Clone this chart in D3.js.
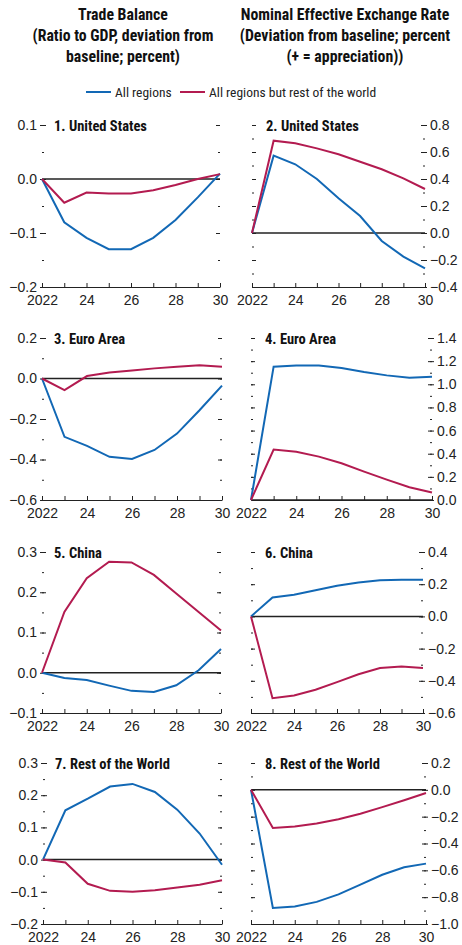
<!DOCTYPE html>
<html>
<head>
  <meta charset="UTF-8">
  <script src="https://d3js.org/d3.v7.min.js"></script>
  <style>
    body { margin: 0; padding: 0; background: #fff; }
    svg { display: block; font-family: "Roboto Condensed", "DejaVu Sans Condensed", sans-serif; }
    .head { font-size: 15.8px; font-weight: bold; fill: #111; }
    .ptitle { font-size: 14.5px; font-weight: bold; fill: #111; }
    .legend text { font-size: 13.5px; fill: #222; }
    .tick text { font-size: 14px; fill: #222; }
    .tick line, .domain { stroke: #222; }
  </style>
</head>
<body>
  <svg id="chart" width="462" height="945"></svg>
  <script>
    // data
    var years = [2022, 2023, 2024, 2025, 2026, 2027, 2028, 2029, 2030];
    var yearLabels = { 2022: "2022", 2024: "24", 2026: "26", 2028: "28", 2030: "30" };
    var seriesNames = ["All regions", "All regions but rest of the world"];
    var leftHeader = ["Trade Balance", "(Ratio to GDP, deviation from", "baseline; percent)"];
    var rightHeader = ["Nominal Effective Exchange Rate", "(Deviation from baseline; percent", "(+ = appreciation))"];

    // trade balance
    var tbUSAll   = [0, -0.080, -0.109, -0.130, -0.130, -0.109, -0.076, -0.034, 0.010];
    var tbUSEx    = [0, -0.044, -0.025, -0.027, -0.027, -0.021, -0.011, 0.000, 0.009];
    var tbEAAll   = [0, -0.288, -0.333, -0.387, -0.397, -0.353, -0.272, -0.157, -0.035];
    var tbEAEx    = [0, -0.057, 0.012, 0.030, 0.040, 0.050, 0.058, 0.065, 0.058];
    var tbCNAll   = [0, -0.013, -0.018, -0.032, -0.045, -0.048, -0.031, 0.006, 0.059];
    var tbCNEx    = [0, 0.151, 0.235, 0.276, 0.274, 0.243, 0.197, 0.151, 0.105];
    var tbRWAll   = [0, 0.153, 0.189, 0.227, 0.235, 0.210, 0.155, 0.081, -0.016];
    var tbRWEx    = [0, -0.009, -0.075, -0.097, -0.100, -0.095, -0.087, -0.078, -0.064];

    // nominal effective exchange rate
    var neerUSAll = [0, 0.573, 0.509, 0.400, 0.257, 0.126, -0.059, -0.175, -0.262];
    var neerUSEx  = [0, 0.684, 0.664, 0.627, 0.583, 0.528, 0.472, 0.405, 0.326];
    var neerEAAll = [0, 1.152, 1.163, 1.163, 1.140, 1.106, 1.077, 1.057, 1.065];
    var neerEAEx  = [0, 0.436, 0.416, 0.375, 0.318, 0.245, 0.176, 0.110, 0.064];
    var neerCNAll = [0, 0.118, 0.135, 0.162, 0.191, 0.211, 0.224, 0.228, 0.228];
    var neerCNEx  = [0, -0.508, -0.491, -0.456, -0.408, -0.359, -0.321, -0.311, -0.321];
    var neerRWAll = [0, -0.881, -0.869, -0.835, -0.779, -0.706, -0.633, -0.577, -0.550];
    var neerRWEx  = [0, -0.285, -0.273, -0.251, -0.219, -0.178, -0.129, -0.078, -0.024];

    // y tick labels per panel
    var ticks1 = [-0.2, -0.1, 0.0, 0.1];
    var ticks2 = [-0.4, -0.2, 0.0, 0.2, 0.4, 0.6, 0.8];
    var ticks3 = [-0.6, -0.4, -0.2, 0.0, 0.2];
    var ticks4 = [0.0, 0.2, 0.4, 0.6, 0.8, 1.0, 1.2, 1.4];
    var ticks5 = [-0.1, 0.0, 0.1, 0.2, 0.3];
    var ticks6 = [-0.6, -0.4, -0.2, 0.0, 0.2, 0.4];
    var ticks7 = [-0.2, -0.1, 0.0, 0.1, 0.2, 0.3];
    var ticks8 = [-1.0, -0.8, -0.6, -0.4, -0.2, 0.0, 0.2];

    var panelTitles = ["1. United States", "2. United States", "3. Euro Area", "4. Euro Area",
      "5. China", "6. China", "7. Rest of the World", "8. Rest of the World"];

    var blue = "#1268b5", red = "#b31b50";

    // layout of the 8 panels
    var panels = [
      { side: "left",  x0: 42,  x1: 220, top: 125, bottom: 287, ticks: ticks1, all: tbUSAll,   ex: tbUSEx },
      { side: "right", x0: 252, x1: 425, top: 125, bottom: 287, ticks: ticks2, all: neerUSAll, ex: neerUSEx },
      { side: "left",  x0: 42,  x1: 222, top: 338, bottom: 500, ticks: ticks3, all: tbEAAll,   ex: tbEAEx },
      { side: "right", x0: 251, x1: 432, top: 338, bottom: 500, ticks: ticks4, all: neerEAAll, ex: neerEAEx },
      { side: "left",  x0: 42,  x1: 221, top: 552, bottom: 713, ticks: ticks5, all: tbCNAll,   ex: tbCNEx },
      { side: "right", x0: 251, x1: 423, top: 552, bottom: 713, ticks: ticks6, all: neerCNAll, ex: neerCNEx },
      { side: "left",  x0: 43,  x1: 222, top: 763, bottom: 924, ticks: ticks7, all: tbRWAll,   ex: tbRWEx },
      { side: "right", x0: 251, x1: 426, top: 763, bottom: 924, ticks: ticks8, all: neerRWAll, ex: neerRWEx }
    ];

    var svg = d3.select("#chart");
    var fmt = function (d) { return d3.format(".1f")(d).replace("-", "\u2212"); };

    // column headers
    function header(lines, cx) {
      svg.append("text").attr("class", "head").attr("text-anchor", "middle")
        .selectAll("tspan").data(lines).enter().append("tspan")
        .attr("x", cx).attr("y", function (d, i) { return 20 + i * 21; })
        .text(function (d) { return d; });
    }
    header(leftHeader, 123);
    header(rightHeader, 345);

    // legend
    var legend = svg.append("g").attr("class", "legend");
    var legX = [86, 180];
    seriesNames.forEach(function (name, i) {
      legend.append("line").attr("x1", legX[i]).attr("x2", legX[i] + 25)
        .attr("y1", 92).attr("y2", 92)
        .attr("stroke", i === 0 ? blue : red).attr("stroke-width", 2);
      legend.append("text").attr("x", legX[i] + 29).attr("y", 97).text(name);
    });

    panels.forEach(function (p, i) {
      var g = svg.append("g");
      var lo = d3.min(p.ticks), hi = d3.max(p.ticks);
      var step = p.ticks[1] - p.ticks[0];
      var minor = d3.range(Math.round((hi - lo) / (step / 2)) + 1).map(function (k) { return lo + k * step / 2; });

      var x = d3.scaleLinear().domain([2022, 2030]).range([p.x0, p.x1]);
      var y = d3.scaleLinear().domain([lo, hi]).range([p.bottom, p.top]);

      var labelled = p.side === "left" ? p.x0 : p.x1;
      var other = p.side === "left" ? p.x1 : p.x0;
      var AxisL = p.side === "left" ? d3.axisLeft : d3.axisRight;
      var AxisO = p.side === "left" ? d3.axisRight : d3.axisLeft;

      // minor ticks on both sides
      g.append("g").attr("transform", "translate(" + labelled + ",0)")
        .call(AxisL(y).tickValues(minor).tickSize(-2).tickFormat(""))
        .call(function (s) { s.select(".domain").remove(); });
      g.append("g").attr("transform", "translate(" + other + ",0)")
        .call(AxisO(y).tickValues(minor).tickSize(-2).tickFormat(""))
        .call(function (s) { s.select(".domain").remove(); });

      // major ticks with labels
      g.append("g").attr("transform", "translate(" + labelled + ",0)")
        .call(AxisL(y).tickValues(p.ticks).tickSize(-4).tickPadding(5).tickFormat(fmt))
        .call(function (s) {
          s.select(".domain").remove();
          s.selectAll(".tick line").attr("x1", p.side === "left" ? -2 : 2);
        });
      g.append("g").attr("transform", "translate(" + other + ",0)")
        .call(AxisO(y).tickValues(p.ticks).tickSize(-4).tickFormat(""))
        .call(function (s) { s.select(".domain").remove(); });

      // x axis
      g.append("g").attr("transform", "translate(0," + p.bottom + ")")
        .call(d3.axisBottom(x).tickValues(years).tickSize(-4).tickSizeOuter(0).tickPadding(8)
          .tickFormat(function (d) { return yearLabels[d] || ""; }))
        .call(function (s) {
          s.selectAll(".tick text").attr("dy", "0.71em");
        });

      // zero line
      g.append("line").attr("x1", p.x0).attr("x2", p.x1)
        .attr("y1", y(0)).attr("y2", y(0))
        .attr("stroke", "#222").attr("stroke-width", 1.5);

      var line = d3.line().x(function (d, k) { return x(years[k]); }).y(function (d) { return y(d); });
      g.append("path").datum(p.all).attr("d", line).attr("fill", "none")
        .attr("stroke", blue).attr("stroke-width", 2);
      g.append("path").datum(p.ex).attr("d", line).attr("fill", "none")
        .attr("stroke", red).attr("stroke-width", 2);

      g.append("text").attr("class", "ptitle")
        .attr("x", p.x0 + (p.side === "left" ? 12 : 14)).attr("y", p.top + 6)
        .text(panelTitles[i]);
    });
  </script>
</body>
</html>
